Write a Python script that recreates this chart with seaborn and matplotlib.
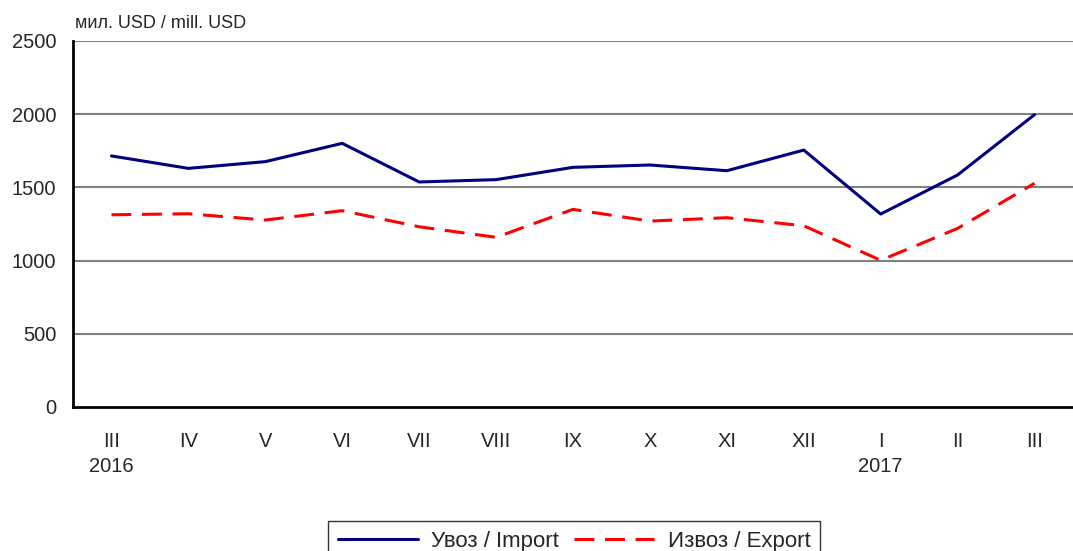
import matplotlib
matplotlib.use("Agg")
import matplotlib.pyplot as plt
import matplotlib.transforms as mtransforms
import seaborn as sns
import pandas as pd
import numpy as np

months = ["III", "IV", "V", "VI", "VII", "VIII", "IX", "X", "XI", "XII", "I", "II", "III"]
years = {0: "2016", 10: "2017"}
imports = [1715, 1630, 1676, 1801, 1537, 1553, 1637, 1653, 1614, 1755, 1318, 1585, 1997]
exports = [1313, 1320, 1277, 1341, 1231, 1159, 1350, 1270, 1293, 1238, 1002, 1220, 1528]
import_label = "Увоз / Import"
export_label = "Извоз / Export"
unit_label = "мил. USD / mill. USD"
yticks = [0, 500, 1000, 1500, 2000, 2500]

sns.set_style("white")
plt.rcParams["font.family"] = ["Liberation Sans", "DejaVu Sans"]

W, H = 1073, 551
fig = plt.figure(figsize=(W / 100, H / 100), dpi=100)
ax = fig.add_axes([73 / W, 1 - 407 / H, 1000 / W, 366 / H])

x = np.arange(len(months))
df_imp = pd.DataFrame({"x": x, "v": imports})
df_exp = pd.DataFrame({"x": x, "v": exports})

sns.lineplot(data=df_imp, x="x", y="v", ax=ax, color="#000080", linewidth=2.2,
             label=import_label)
sns.lineplot(data=df_exp, x="x", y="v", ax=ax, color="#ff0000", linewidth=2.2,
             label=export_label)
ax.lines[1].set_dashes([6.5, 3.5])
ax.lines[1].set_dash_capstyle("butt")

ax.set_xlim(-0.5, len(months) - 0.5)
ax.set_ylim(0, 2500)
ax.set_yticks(yticks)
ax.set_yticklabels([str(t) for t in yticks], fontsize=14.5)
for t in yticks[1:]:
    ax.axhline(t, color="#808080", linewidth=1.5, zorder=0)

ax.set_xticks(np.arange(-0.5, len(months), 1.0))
ax.set_xticklabels([])
ax.set_xticks(x, minor=True)
ax.set_xticklabels(months, minor=True, fontsize=14.5)
ax.tick_params(axis="x", which="major", direction="out", length=6, width=1.5, color="black")
ax.tick_params(axis="x", which="minor", length=0, pad=18)
ax.tick_params(axis="y", direction="out", length=7, width=1.5, color="black", pad=5)
ax.set_xlabel("")
ax.set_ylabel("")

for s in ["top", "right"]:
    ax.spines[s].set_visible(False)
for s in ["left", "bottom"]:
    ax.spines[s].set_linewidth(2)
    ax.spines[s].set_color("black")

trans = mtransforms.blended_transform_factory(ax.transData, fig.transFigure)
for i, yr in years.items():
    ax.text(i, 1 - 466 / H, yr, transform=trans, ha="center", va="center", fontsize=14.5)

fig.text(75 / W, 1 - 23 / H, unit_label, ha="left", va="center", fontsize=13)

ax.get_legend().remove()
handles = ax.lines[:2]
leg = fig.legend(handles, [import_label, export_label], loc="upper center",
                 bbox_to_anchor=(574 / W, 1 - 521 / H), ncol=2, fontsize=16,
                 frameon=True, fancybox=False, edgecolor="black", handlelength=3.6,
                 borderpad=0.45, columnspacing=0.7, handletextpad=0.6, borderaxespad=0)
leg.get_frame().set_linewidth(1.0)

fig.savefig("out.png", dpi=100)
